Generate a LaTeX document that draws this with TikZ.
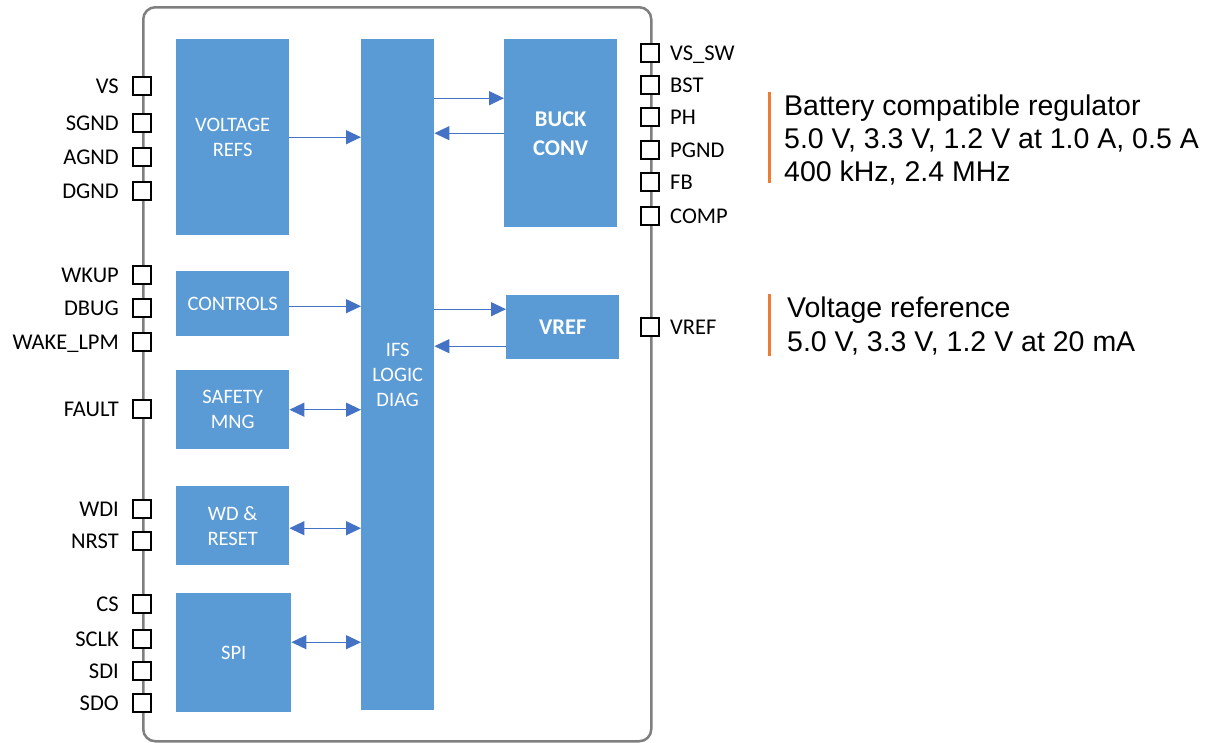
\documentclass[tikz,border=0pt]{standalone}
\usepackage{fontspec}
\setmainfont{Carlito}
\newfontfamily\arialfont{Liberation Sans}
\usetikzlibrary{arrows.meta}
\definecolor{blkc}{HTML}{5B9BD5}
\definecolor{arrc}{HTML}{4472C4}
\definecolor{orgc}{HTML}{ED7D31}
\definecolor{frmc}{HTML}{7F7F7F}
\tikzset{
  blockbox/.style={fill=blkc, draw=none, inner sep=0pt, anchor=north west, text=white, align=center, font=\fontsize{20.5}{25}\selectfont},
  boldblock/.style={blockbox, font=\fontsize{22.5}{29}\selectfont\bfseries},
  pinbox/.style={draw=black, fill=white, line width=2pt, minimum size=18pt, inner sep=0pt},
  pinlabel/.style={font=\fontsize{22.5}{26}\selectfont, inner sep=0pt, text=black},
  conn/.style={draw=arrc, line width=1.3pt, -{Triangle[length=15pt,width=14pt]}},
  biconn/.style={draw=arrc, line width=1.3pt, {Triangle[length=15pt,width=14pt]}-{Triangle[length=15pt,width=14pt]}},
  infotext/.style={font=\arialfont\fontsize{28.5}{33}\selectfont, inner sep=0pt, anchor=base west},
  orangebar/.style={draw=orgc, line width=3pt}
}
\begin{document}
\begin{tikzpicture}[x=1pt,y=-1pt]
\useasboundingbox (0,0) rectangle (1213,742);
% chip outline
\node[draw=frmc, line width=2.5pt, rounded corners=12pt, minimum width=508pt, minimum height=734pt, inner sep=0pt, anchor=north west] (chip) at (142,6) {};
% blocks
\node[blockbox, minimum width=113pt, minimum height=196pt] (vrefs) at (176,39) {VOLTAGE\\REFS};
\node[blockbox, minimum width=73pt, minimum height=671pt] (ifs) at (361,39) {IFS\\LOGIC\\DIAG};
\node[boldblock, minimum width=113pt, minimum height=188pt] (buck) at (504,39) {BUCK\\CONV};
\node[blockbox, minimum width=113pt, minimum height=65pt] (ctrl) at (176,271) {CONTROLS};
\node[blockbox, minimum width=113pt, minimum height=79pt] (safe) at (176,370) {SAFETY\\MNG};
\node[blockbox, minimum width=113pt, minimum height=79pt] (wd) at (176,486) {WD \&\\RESET};
\node[blockbox, minimum width=115pt, minimum height=119pt] (spi) at (176,593) {SPI};
\node[boldblock, minimum width=113pt, minimum height=64pt] (vref) at (506,295) {VREF};
% left pins
\foreach \nm/\tx/\yy in {VS/VS/86, SGND/SGND/123, AGND/AGND/157, DGND/DGND/191, WKUP/WKUP/275, DBUG/DBUG/308, WAKELPM/WAKE\_LPM/342, FAULT/FAULT/409, WDI/WDI/509, NRST/NRST/541, CS/CS/604, SCLK/SCLK/639, SDI/SDI/671, SDO/SDO/703}{
  \node[pinbox] (p\nm) at (142,\yy) {};
  \node[pinlabel, anchor=base east] (l\nm) at (119,\yy+7) {\tx};
}
% right pins
\foreach \nm/\tx/\yy in {VSSW/VS\_SW/53, BST/BST/85, PH/PH/117, PGND/PGND/150, FB/FB/182, COMP/COMP/216, VREF/VREF/327}{
  \node[pinbox] (p\nm) at (650,\yy) {};
  \node[pinlabel, anchor=base west] (l\nm) at (670,\yy+7) {\tx};
}
% connectors
\draw[conn] (vrefs.east) -- (vrefs.east -| ifs.west);
\coordinate (bk1) at ([yshift=35pt]buck.west);
\draw[conn] (bk1 -| ifs.east) -- (bk1);
\draw[conn] (buck.west) -- (buck.west -| ifs.east);
\coordinate (ct1) at ([yshift=-2.5pt]ctrl.east);
\draw[conn] (ct1) -- (ct1 -| ifs.west);
\draw[biconn] (safe.east) -- (safe.east -| ifs.west);
\coordinate (vr1) at ([yshift=18pt]vref.west);
\coordinate (vr2) at ([yshift=-19pt]vref.west);
\draw[conn] (vr1 -| ifs.east) -- (vr1);
\draw[conn] (vr2) -- (vr2 -| ifs.east);
\coordinate (wd1) at ([yshift=-2.5pt]wd.east);
\draw[biconn] (wd1) -- (wd1 -| ifs.west);
\coordinate (sp1) at ([yshift=10.5pt]spi.east);
\draw[biconn] (sp1) -- (sp1 -| ifs.west);
% info texts
\draw[orangebar] (769,92) -- (769,183);
\node[infotext] (t1) at (784,115) {Battery compatible regulator};
\node[infotext] (t2) at (784,148) {5.0 V, 3.3 V, 1.2 V at 1.0 A, 0.5 A};
\node[infotext] (t3) at (784,181) {400 kHz, 2.4 MHz};
\draw[orangebar] (769,294) -- (769,356);
\node[infotext] (t4) at (787,317) {Voltage reference};
\node[infotext] (t5) at (787,351) {5.0 V, 3.3 V, 1.2 V at 20 mA};
\end{tikzpicture}
\end{document}
